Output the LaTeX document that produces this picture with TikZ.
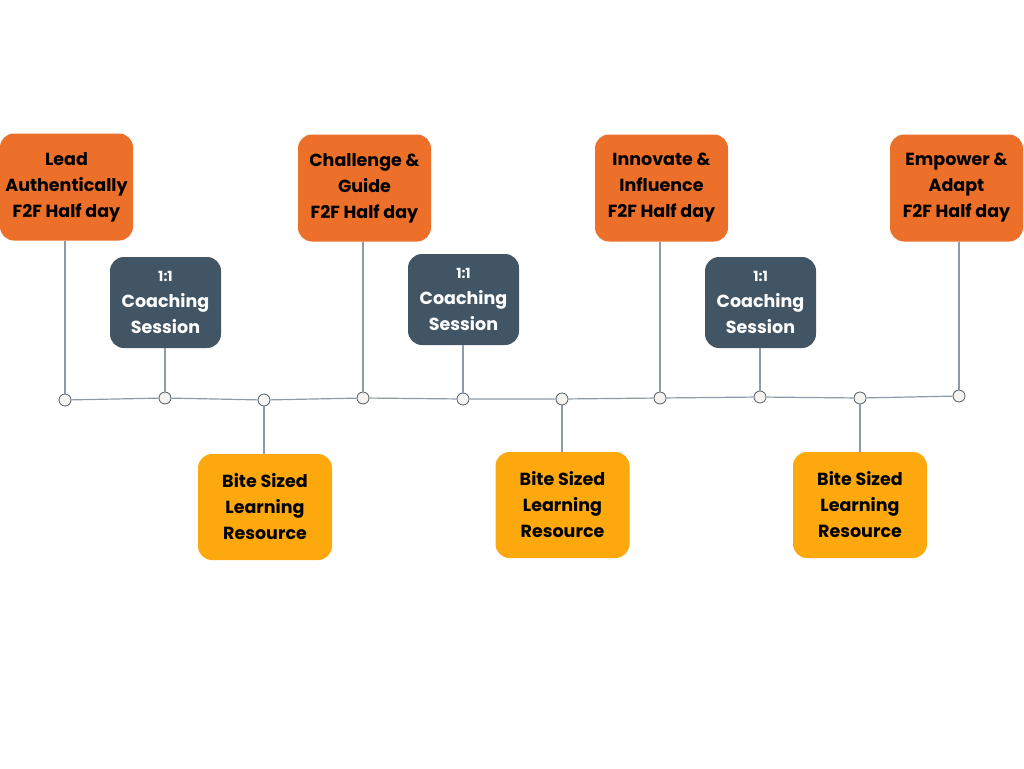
\documentclass[tikz,border=0pt]{standalone}
\usepackage{fontspec}
\setmainfont{Poppins}
\definecolor{orangebox}{HTML}{EC7029}
\definecolor{darkbox}{HTML}{415565}
\definecolor{yellowbox}{HTML}{FDA90D}
\definecolor{linegray}{HTML}{8E9AA6}
\definecolor{dotfill}{HTML}{F5F3EF}
\definecolor{dotline}{HTML}{4F5B66}
\begin{document}
\begin{tikzpicture}[x=1pt,y=-1pt,
  box/.style={rectangle,rounded corners=14pt,align=center,inner sep=0pt,
    font=\bfseries\fontsize{17.5}{26}\selectfont},
  obox/.style={box,fill=orangebox,text=black,minimum width=133pt,minimum height=107pt},
  dbox/.style={box,fill=darkbox,text=white,minimum width=111pt,minimum height=91pt},
  ybox/.style={box,fill=yellowbox,text=black,minimum width=134pt,minimum height=106pt},
  dot/.style={circle,draw=dotline,fill=dotfill,line width=0.8pt,minimum size=12pt,inner sep=0pt},
  conn/.style={draw=linegray,line width=1.2pt}]
\useasboundingbox (0,0) rectangle (1024,768);
\fill[white] (0,0) rectangle (1024,768);
% dots on the timeline
\node[dot] (c1) at (65,400) {};
\node[dot] (c2) at (165,398) {};
\node[dot] (c3) at (264,400) {};
\node[dot] (c4) at (363,398) {};
\node[dot] (c5) at (463,399) {};
\node[dot] (c6) at (562,399) {};
\node[dot] (c7) at (660,398) {};
\node[dot] (c8) at (760,397) {};
\node[dot] (c9) at (860,398) {};
\node[dot] (c10) at (959,396) {};
% boxes
\node[obox] (o1) at (66.5,187) {Lead\\Authentically\\F2F Half day};
\node[obox] (o2) at (364.5,188) {Challenge \&\\Guide\\F2F Half day};
\node[obox] (o3) at (661.5,188) {Innovate \&\\Influence\\F2F Half day};
\node[obox] (o4) at (956.5,188) {Empower \&\\Adapt\\F2F Half day};
\node[dbox] (d1) at (165.5,302.5) {{\fontsize{14}{26}\selectfont 1:1}\\Coaching\\Session};
\node[dbox] (d2) at (463.5,299.5) {{\fontsize{14}{26}\selectfont 1:1}\\Coaching\\Session};
\node[dbox] (d3) at (760.5,302.5) {{\fontsize{14}{26}\selectfont 1:1}\\Coaching\\Session};
\node[ybox] (y1) at (265,507) {Bite Sized\\Learning\\Resource};
\node[ybox] (y2) at (562.5,505) {Bite Sized\\Learning\\Resource};
\node[ybox] (y3) at (860,505) {Bite Sized\\Learning\\Resource};
% connectors
\draw[conn] (c1) -- (c2) -- (c3) -- (c4) -- (c5) -- (c6) -- (c7) -- (c8) -- (c9) -- (c10);
\draw[conn] (o1.south -| c1) -- (c1);
\draw[conn] (o2.south -| c4) -- (c4);
\draw[conn] (o3.south -| c7) -- (c7);
\draw[conn] (o4.south -| c10) -- (c10);
\draw[conn] (d1.south -| c2) -- (c2);
\draw[conn] (d2.south -| c5) -- (c5);
\draw[conn] (d3.south -| c8) -- (c8);
\draw[conn] (y1.north -| c3) -- (c3);
\draw[conn] (y2.north -| c6) -- (c6);
\draw[conn] (y3.north -| c9) -- (c9);
\end{tikzpicture}
\end{document}
